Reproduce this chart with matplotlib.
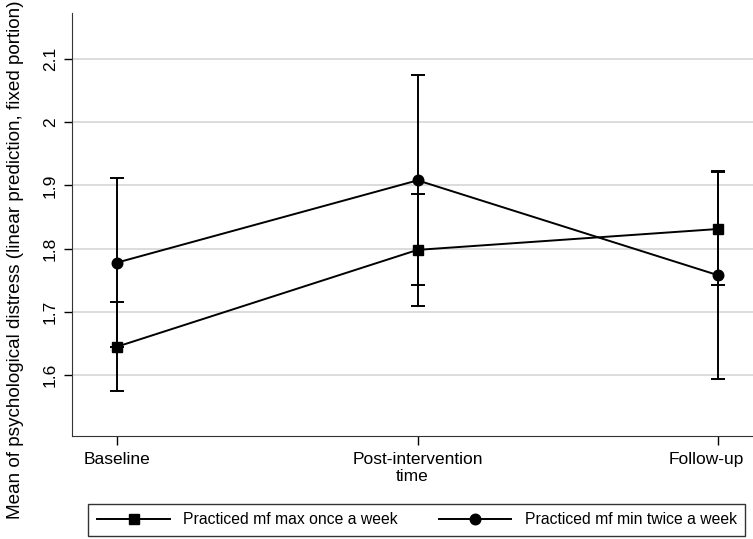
import numpy as np
import matplotlib
matplotlib.use("Agg")
from matplotlib import pyplot as plt
from matplotlib.transforms import ScaledTranslation

# ---------------------------------- data ------------------------------------#
time_labels = ["Baseline", "Post-intervention", "Follow-up"]

once_mean = [1.645, 1.798, 1.831]
once_lo = [1.574, 1.710, 1.742]
once_hi = [1.716, 1.887, 1.921]

twice_mean = [1.778, 1.908, 1.758]
twice_lo = [1.644, 1.742, 1.593]
twice_hi = [1.912, 2.075, 1.923]

series_names = ["Practiced mf max once a week", "Practiced mf min twice a week"]
y_ticks = [1.6, 1.7, 1.8, 1.9, 2.0, 2.1]
y_tick_labels = ["1.6", "1.7", "1.8", "1.9", "2", "2.1"]
# ----------------------------------------------------------------------------#

plt.rcParams["font.family"] = ["Liberation Sans", "DejaVu Sans"]

fig = plt.figure(figsize=(7.53, 5.39), dpi=100)
ax = fig.add_axes([0.0952, 0.191, 0.9048, 0.785])

x = np.arange(len(time_labels))

def draw(mean, lo, hi, marker, ms, label):
    mean = np.array(mean)
    err = np.vstack([mean - np.array(lo), np.array(hi) - mean])
    ax.errorbar(x, mean, yerr=err, fmt="none", ecolor="black",
                elinewidth=1.4, capsize=5, capthick=1.4, zorder=3)
    ax.plot(x, mean, color="black", linewidth=1.4, marker=marker,
            markersize=ms, markerfacecolor="black", markeredgecolor="black",
            label=label, zorder=4)

draw(once_mean, once_lo, once_hi, "s", 7.8, series_names[0])
draw(twice_mean, twice_lo, twice_hi, "o", 7.6, series_names[1])

ax.set_xlim(-0.152, 2.117)
ax.set_ylim(1.5035, 2.1728)

ax.set_yticks(y_ticks)
ax.set_yticklabels(y_tick_labels, rotation=90, va="center", fontsize=12.5)
ax.set_xticks(x)
ax.set_xticklabels(time_labels, fontsize=12.5)
ax.tick_params(axis="y", length=6, width=1, pad=4)
ax.tick_params(axis="x", length=6.5, width=1, pad=5)

# last label is pushed inward so it stays inside the picture
last = ax.get_xticklabels()[-1]
last.set_transform(last.get_transform() + ScaledTranslation(-8 / 72, 0, fig.dpi_scale_trans))

ax.grid(axis="y", color="#d9d9d9", linewidth=1.3)
ax.set_axisbelow(True)
for s in ["top", "right"]:
    ax.spines[s].set_visible(False)
ax.spines["left"].set_color("#333333")
ax.spines["bottom"].set_color("#333333")

ax.set_xlabel("time", fontsize=12.5, labelpad=1.5)
fig.text(0.02, 0.519, "Mean of psychological distress (linear prediction, fixed portion)",
         rotation=90, ha="center", va="center", fontsize=13.6)

leg = fig.legend(loc="center", ncol=2,
                 bbox_to_anchor=(0.110, 0.002, 0.887, 0.067),
                 fontsize=11.3, handlelength=4.65, handletextpad=0.83,
                 columnspacing=2.6, frameon=True, fancybox=False,
                 borderaxespad=0, borderpad=0.55)
leg.get_frame().set_edgecolor("black")
leg.get_frame().set_linewidth(1)

fig.savefig("out.png", dpi=100)
